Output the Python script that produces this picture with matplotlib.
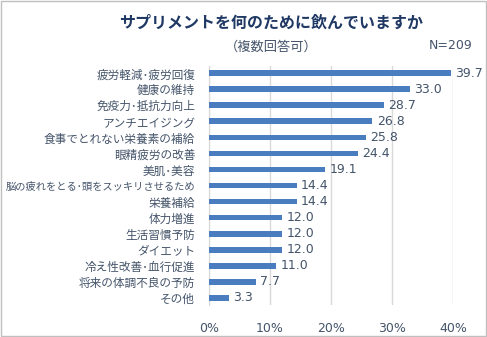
import matplotlib.pyplot as plt
from matplotlib.patches import Rectangle

plt.rcParams["font.family"] = ["Noto Sans CJK JP", "DejaVu Sans"]

# Data
labels = [
    "疲労軽減･疲労回復",
    "健康の維持",
    "免疫力･抵抗力向上",
    "アンチエイジング",
    "食事でとれない栄養素の補給",
    "眼精疲労の改善",
    "美肌･美容",
    "脳の疲れをとる･頭をスッキリさせるため",
    "栄養補給",
    "体力増進",
    "生活習慣予防",
    "ダイエット",
    "冷え性改善･血行促進",
    "将来の体調不良の予防",
    "その他",
]
values = [39.7, 33.0, 28.7, 26.8, 25.8, 24.4, 19.1, 14.4, 14.4, 12.0, 12.0, 12.0, 11.0, 7.7, 3.3]
xticks = [0, 10, 20, 30, 40]

bar_color = "#4A7CC0"
text_color = "#44546A"
title_color = "#1F3864"

fig = plt.figure(figsize=(4.87, 3.37), dpi=100)
fig.patches.append(Rectangle((0.002, 0.003), 0.995, 0.994, transform=fig.transFigure,
                             fill=False, edgecolor="#BFBFBF", linewidth=1.0))

ax = fig.add_axes([0.429, 0.095, 0.501, 0.709])
y = list(range(len(labels)))
ax.barh(y, values, height=0.36, color=bar_color, zorder=3)
for yi, v in zip(y, values):
    ax.text(v + 0.7, yi, f"{v:.1f}", va="center", ha="left", fontsize=9,
            family="DejaVu Sans", color=text_color, zorder=4)

ax.set_xlim(0, 40)
ax.set_ylim(14.45, -0.45)
ax.set_yticks(y)
ax.set_yticklabels(labels, fontsize=8.4, color=text_color)
for t in ax.get_yticklabels():
    if len(t.get_text()) > 15:
        t.set_fontsize(7.4)
ax.set_xticks(xticks)
ax.set_xticklabels([f"{t}%" for t in xticks], fontsize=9, family="DejaVu Sans", color=text_color)
ax.tick_params(axis="both", length=0)
ax.tick_params(axis="x", pad=12)
ax.tick_params(axis="y", pad=10)
ax.grid(axis="x", color="#D9D9D9", linewidth=1.0, zorder=0)
for s in ["top", "right", "bottom"]:
    ax.spines[s].set_visible(False)
ax.spines["left"].set_color("#D9D9D9")

fig.text(0.557, 0.933, "サプリメントを何のために飲んでいますか", ha="center", va="center",
         fontsize=11.5, fontweight="bold", color=title_color)
fig.text(0.557, 0.86, "（複数回答可）", ha="center", va="center", fontsize=9.5, color=text_color)
fig.text(0.925, 0.865, "N=209", ha="center", va="center", fontsize=9,
         family="DejaVu Sans", color=text_color)

fig.savefig("out.png", dpi=100)
